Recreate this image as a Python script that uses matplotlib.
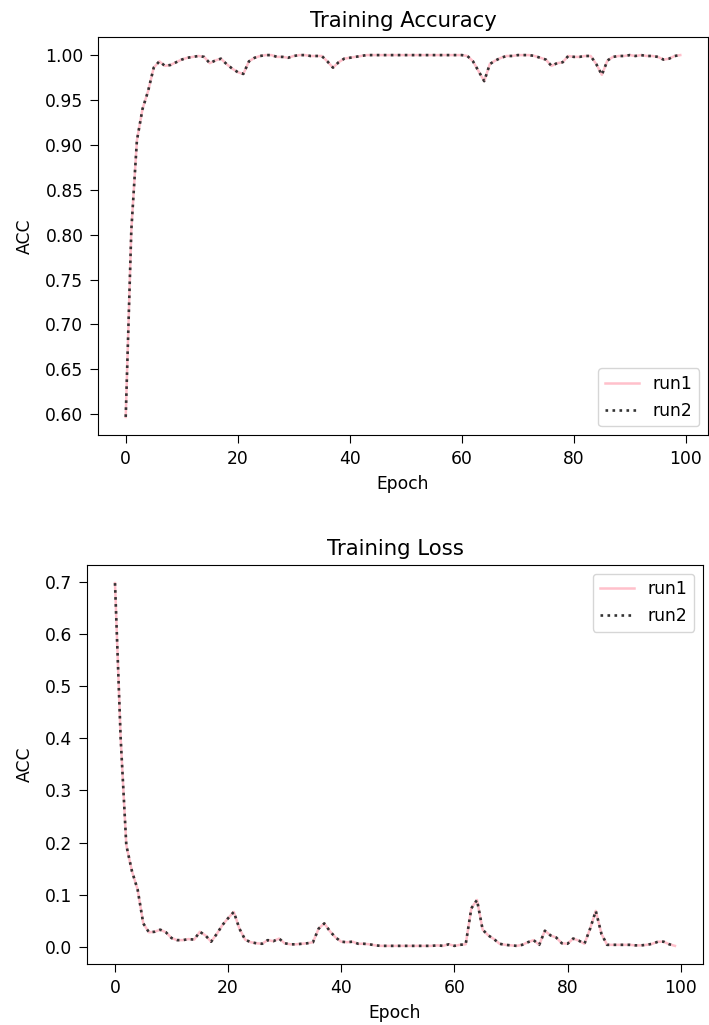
import numpy as np
import matplotlib
matplotlib.use('Agg')
import matplotlib.pyplot as plt

# datos (100 epocas)
epochs = np.arange(100)

acc = [0.597, 0.805, 0.905, 0.940, 0.960, 0.986, 0.993, 0.988, 0.989, 0.992,
       0.995, 0.997, 0.998, 0.999, 0.998, 0.991, 0.994, 0.996, 0.990, 0.985,
       0.981, 0.979, 0.993, 0.997, 0.999, 1.000, 1.000, 0.998, 0.998, 0.997,
       0.999, 1.000, 1.000, 0.999, 0.999, 0.999, 0.993, 0.986, 0.992, 0.996,
       0.997, 0.998, 0.999, 1.000, 1.000, 1.000, 1.000, 1.000, 1.000, 1.000,
       1.000, 1.000, 1.000, 1.000, 1.000, 1.000, 1.000, 1.000, 1.000, 1.000,
       1.000, 0.999, 0.993, 0.982, 0.971, 0.990, 0.994, 0.997, 0.999, 0.999,
       1.000, 1.000, 1.000, 0.999, 0.997, 0.995, 0.988, 0.991, 0.992, 0.999,
       0.998, 0.998, 0.999, 0.999, 0.990, 0.978, 0.994, 0.998, 0.999, 0.999,
       1.000, 0.999, 1.000, 0.999, 0.999, 0.998, 0.995, 0.996, 0.999, 1.000]

loss = [0.697, 0.400, 0.195, 0.145, 0.110, 0.045, 0.028, 0.029, 0.033, 0.028,
        0.017, 0.013, 0.013, 0.015, 0.014, 0.029, 0.022, 0.010, 0.025, 0.042,
        0.055, 0.067, 0.035, 0.014, 0.009, 0.007, 0.006, 0.013, 0.011, 0.016,
        0.007, 0.005, 0.005, 0.006, 0.007, 0.009, 0.035, 0.045, 0.030, 0.018,
        0.010, 0.009, 0.010, 0.006, 0.006, 0.005, 0.003, 0.002, 0.002, 0.002,
        0.002, 0.002, 0.002, 0.002, 0.002, 0.002, 0.002, 0.003, 0.002, 0.005,
        0.002, 0.004, 0.005, 0.074, 0.090, 0.033, 0.022, 0.015, 0.006, 0.004,
        0.003, 0.002, 0.004, 0.009, 0.013, 0.004, 0.031, 0.022, 0.018, 0.007,
        0.006, 0.016, 0.012, 0.006, 0.035, 0.069, 0.025, 0.004, 0.004, 0.004,
        0.004, 0.004, 0.003, 0.003, 0.004, 0.006, 0.010, 0.010, 0.005, 0.002]

fs = 12.3

fig = plt.figure(figsize=(7.09, 10.25), dpi=100)

ax1 = fig.add_axes([0.1382, 0.5756, 0.8604, 0.3883])
ax1.plot(epochs, acc, color='pink', lw=1.8, label='run1')
ax1.plot(epochs, acc, ':', color='#333333', lw=1.9, label='run2')
ax1.set_title('Training Accuracy', fontsize=15.3, pad=7)
ax1.set_xlabel('Epoch', fontsize=fs, labelpad=5)
ax1.set_ylabel('ACC', fontsize=fs, labelpad=8)
ax1.tick_params(labelsize=fs, length=5.5, pad=5)
ax1.legend(loc='lower right', fontsize=fs)

ax2 = fig.add_axes([0.1227, 0.0595, 0.8688, 0.3893])
ax2.plot(epochs, loss, color='pink', lw=1.8, label='run1')
ax2.plot(epochs, loss, ':', color='#333333', lw=1.9, label='run2')
ax2.set_title('Training Loss', fontsize=15.3, pad=7)
ax2.set_xlabel('Epoch', fontsize=fs, labelpad=5)
ax2.set_ylabel('ACC', fontsize=fs, labelpad=8)
ax2.tick_params(labelsize=fs, length=5.5, pad=5)
ax2.legend(loc='upper right', fontsize=fs)

plt.savefig('out.png')
